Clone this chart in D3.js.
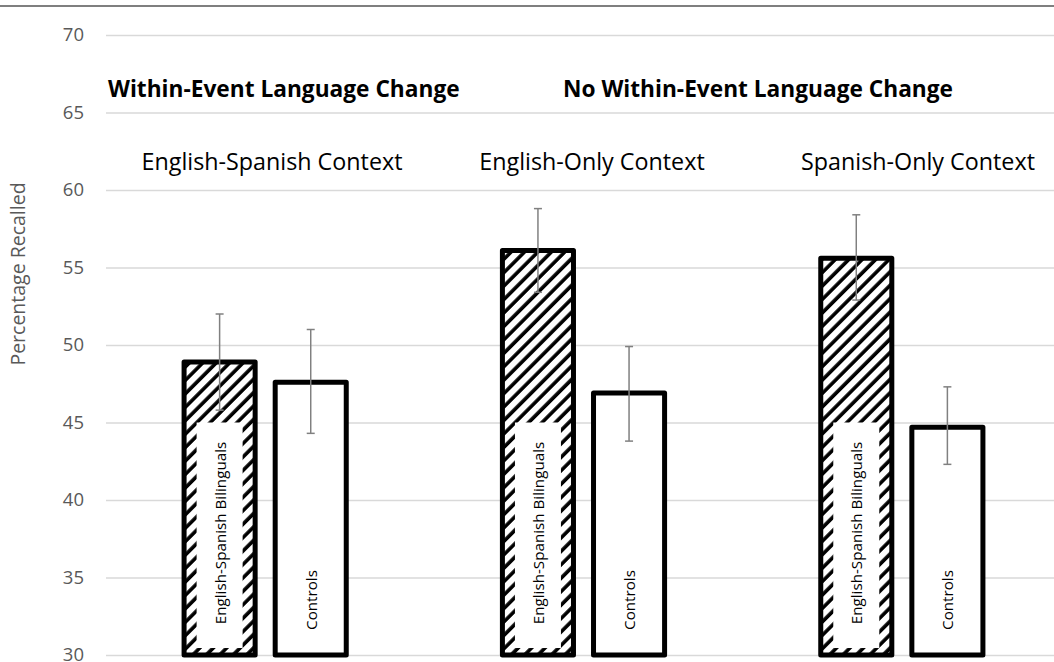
<!DOCTYPE html>
<html>
<head>
<meta charset="utf-8">
<script src="https://cdn.jsdelivr.net/npm/d3@7"></script>
<style>
  body { margin: 0; background: #fff; }
  svg { display: block; font-family: "Open Sans", sans-serif; }
</style>
</head>
<body>
<script>
var groups = ['English-Spanish Context', 'English-Only Context', 'Spanish-Only Context'];
var seriesNames = ['English-Spanish Bilinguals', 'Controls'];
var bilingualValues = [48.9, 56.1, 55.6];
var bilingualLow = [45.8, 53.4, 52.9];
var bilingualHigh = [52.0, 58.8, 58.4];
var controlValues = [47.6, 46.9, 44.7];
var controlLow = [44.3, 43.8, 42.3];
var controlHigh = [51.0, 49.9, 47.3];
var yTicks = [30, 35, 40, 45, 50, 55, 60, 65, 70];

var width = 1054;
var height = 662;

var svg = d3.select('body').append('svg')
  .attr('width', width)
  .attr('height', height);

var defs = svg.append('defs');
defs.append('pattern')
  .attr('id', 'hatch')
  .attr('patternUnits', 'userSpaceOnUse')
  .attr('width', 9.5)
  .attr('height', 9.5)
  .attr('patternTransform', 'rotate(45)')
  .call(function (p) {
    p.append('rect').attr('width', 9.5).attr('height', 9.5).attr('fill', '#fff');
    p.append('line')
      .attr('x1', 2).attr('y1', 0).attr('x2', 2).attr('y2', 9.5)
      .attr('stroke', '#000').attr('stroke-width', 3.6);
  });

// top rule of the figure
svg.append('line')
  .attr('x1', 0).attr('x2', width)
  .attr('y1', 6).attr('y2', 6)
  .attr('stroke', '#555').attr('stroke-width', 1.5);

var y = d3.scaleLinear().domain([30, 70]).range([655, 35]);
var x0 = d3.scaleBand().domain(groups).range([106, 1061]);
var x1 = d3.scaleBand().domain(seriesNames)
  .range([0, x0.bandwidth()])
  .paddingInner(0.22)
  .paddingOuter(0.857);

// grid + tick labels
var yAxis = d3.axisLeft(y)
  .tickValues(yTicks)
  .tickSize(-(width - 106))
  .tickPadding(22);

var axisG = svg.append('g')
  .attr('transform', 'translate(106,0)')
  .call(yAxis);
axisG.select('.domain').remove();
axisG.selectAll('.tick line')
  .attr('stroke', '#d9d9d9')
  .attr('stroke-width', 1.5);
axisG.selectAll('.tick text')
  .attr('fill', '#595959')
  .attr('font-size', 18.5)
  .attr('font-family', '"Open Sans", sans-serif');

svg.append('text')
  .attr('transform', 'translate(25,274) rotate(-90)')
  .attr('text-anchor', 'middle')
  .attr('fill', '#595959')
  .attr('font-size', 19.5)
  .text('Percentage Recalled');

var rows = groups.map(function (g, i) {
  return [
    {group: g, series: seriesNames[0], value: bilingualValues[i], low: bilingualLow[i], high: bilingualHigh[i], hatched: true},
    {group: g, series: seriesNames[1], value: controlValues[i], low: controlLow[i], high: controlHigh[i], hatched: false}
  ];
});

var groupSel = svg.selectAll('.group')
  .data(rows)
  .enter().append('g')
  .attr('class', 'group')
  .attr('transform', function (d) { return 'translate(' + x0(d[0].group) + ',0)'; });

var bars = groupSel.selectAll('.bar')
  .data(function (d) { return d; })
  .enter().append('g')
  .attr('class', 'bar');

bars.append('rect')
  .attr('x', function (d) { return x1(d.series); })
  .attr('y', function (d) { return y(d.value); })
  .attr('width', x1.bandwidth())
  .attr('height', function (d) { return y(30) - y(d.value); })
  .attr('fill', function (d) { return d.hatched ? 'url(#hatch)' : '#fff'; })
  .attr('stroke', '#000')
  .attr('stroke-width', 5)
  .attr('stroke-linejoin', 'round');

// white label box over the hatch
bars.filter(function (d) { return d.hatched; })
  .append('rect')
  .attr('x', function (d) { return x1(d.series) + x1.bandwidth() / 2 - 23; })
  .attr('y', y(45))
  .attr('width', 46)
  .attr('height', y(30.45) - y(45))
  .attr('fill', '#fff');

bars.append('text')
  .attr('transform', function (d) {
    var cx = x1(d.series) + x1.bandwidth() / 2;
    var cy = d.hatched ? 533 : 600;
    return 'translate(' + (cx + 6) + ',' + cy + ') rotate(-90)';
  })
  .attr('text-anchor', 'middle')
  .attr('fill', '#000')
  .attr('font-size', 15.2)
  .text(function (d) { return d.series; });

// error bars
var err = bars.append('g')
  .attr('stroke', '#808080')
  .attr('stroke-width', 1.5);
err.append('line')
  .attr('x1', function (d) { return x1(d.series) + x1.bandwidth() / 2; })
  .attr('x2', function (d) { return x1(d.series) + x1.bandwidth() / 2; })
  .attr('y1', function (d) { return y(d.low); })
  .attr('y2', function (d) { return y(d.high); });
[ 'low', 'high' ].forEach(function (k) {
  err.append('line')
    .attr('x1', function (d) { return x1(d.series) + x1.bandwidth() / 2 - 4; })
    .attr('x2', function (d) { return x1(d.series) + x1.bandwidth() / 2 + 4; })
    .attr('y1', function (d) { return y(d[k]); })
    .attr('y2', function (d) { return y(d[k]); });
});

// context labels
svg.selectAll('.ctx')
  .data(groups)
  .enter().append('text')
  .attr('class', 'ctx')
  .attr('x', function (d, i) { return [272, 592, 918][i]; })
  .attr('y', 170)
  .attr('text-anchor', 'middle')
  .attr('font-size', 23.3)
  .attr('fill', '#000')
  .text(function (d) { return d; });

svg.append('text')
  .attr('x', 108).attr('y', 97)
  .attr('font-size', 22.7)
  .attr('font-weight', 'bold')
  .text('Within-Event Language Change');
svg.append('text')
  .attr('x', 758).attr('y', 97)
  .attr('text-anchor', 'middle')
  .attr('font-size', 22.7)
  .attr('font-weight', 'bold')
  .text('No Within-Event Language Change');
</script>
</body>
</html>
